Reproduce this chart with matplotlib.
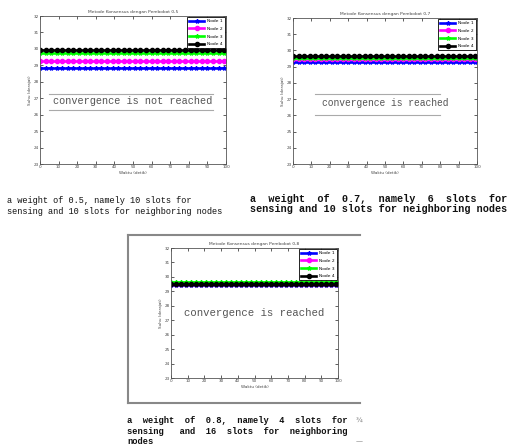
import numpy as np
import matplotlib.pyplot as plt
from matplotlib.lines import Line2D

# time axis (detik)
waktu = np.arange(0, 101)

node_names = ["Node 1", "Node 2", "Node 3", "Node 4"]
node_colors = ["blue", "magenta", "lime", "black"]
node_markers = ["*", "o", "*", "o"]

# steady temperature per node
suhu_05 = [28.85, 29.28, 29.73, 29.95]
suhu_07 = [29.27, 29.45, 29.55, 29.66]
suhu_08 = [29.45, 29.50, 29.68, 29.50]

titles = ["Metode Konsensus dengan Pembobot 0,5",
          "Metode Konsensus dengan Pembobot 0,7",
          "Metode Konsensus dengan Pembobot 0,8"]
notes = ["convergence is not reached", "convergence is reached", "convergence is reached"]

captions = [
    "a weight of 0.5, namely 10 slots for\nsensing and 10 slots for neighboring nodes",
    "a  weight  of  0.7,  namely  6  slots  for\nsensing and 10 slots for neighboring nodes",
    "a  weight  of  0.8,  namely  4  slots  for\nsensing   and  16  slots  for  neighboring\nnodes",
]

W, H = 509, 447
fig = plt.figure(figsize=(W / 100, H / 100), dpi=100)


def px(l, t, r, b):
    return [l / W, 1 - b / H, (r - l) / W, (b - t) / H]


def panel(rect, values, title, note, note_y, note_size, lines=None, span=None):
    ax = fig.add_axes(px(*rect))
    for v, name, c, m in zip(values, node_names, node_colors, node_markers):
        ax.plot(waktu, np.full(waktu.shape, v), color=c, marker=m, markevery=3,
                markersize=3, linewidth=1.9, label=name)
    ax.set_xlim(0, 100)
    ax.set_ylim(23, 32)
    ax.set_xticks(np.arange(0, 101, 10))
    ax.set_yticks(np.arange(23, 33, 1))
    ax.tick_params(direction="in", top=True, right=True, labelsize=3, length=2,
                   width=0.6, pad=1, colors="#444444")
    for s in ax.spines.values():
        s.set_linewidth(0.6)
        s.set_color("#555555")
    ax.set_title(title, fontsize=3.2, pad=2, color="#444444")
    ax.set_xlabel("Waktu (detik)", fontsize=3, labelpad=1, color="#444444")
    ax.set_ylabel("Suhu (derajat)", fontsize=3, labelpad=1, color="#444444")
    leg = ax.legend(loc="upper right", fontsize=3.2, handlelength=3.2, borderpad=0.5,
                    labelspacing=0.8, fancybox=False, framealpha=1, edgecolor="black",
                    borderaxespad=0.2)
    leg.get_frame().set_linewidth(0.6)
    ax.text(0.5, note_y, note, transform=ax.transAxes, ha="center", va="center",
            family="Liberation Mono", fontsize=note_size, color="#555555")
    if lines:
        for y in lines:
            ax.plot(span, [y, y], transform=ax.transAxes, color="#aaaaaa", lw=0.8)
    return ax


panel((40, 16, 226, 164), suhu_05, titles[0], notes[0], 0.423, 7.4,
      lines=[0.476, 0.362], span=[0.05, 0.93])
panel((293, 18, 477, 164), suhu_07, titles[1], notes[1], 0.42, 6.9,
      lines=[0.477, 0.338], span=[0.12, 0.80])
panel((171, 248, 338, 378), suhu_08, titles[2], notes[2], 0.50, 7.7)

# frame around third chart
gray = "#888888"
fig.add_artist(Line2D([128 / W, 360 / W], [1 - 235 / H, 1 - 235 / H], color=gray, lw=1.5))
fig.add_artist(Line2D([128 / W, 360 / W], [1 - 403 / H, 1 - 403 / H], color=gray, lw=1.5))
fig.add_artist(Line2D([128 / W, 128 / W], [1 - 235 / H, 1 - 403 / H], color=gray, lw=1.5))

cap_kw = dict(family="Liberation Mono", color="#111111", va="center", ha="left")
fig.text(7 / W, 1 - 206 / H, captions[0], fontsize=6.2, linespacing=1.25, **cap_kw)
fig.text(250 / W, 1 - 204 / H, captions[1], fontsize=7.3, linespacing=1.12,
         fontweight="bold", **cap_kw)
fig.text(127 / W, 1 - 431 / H, captions[2], fontsize=6.3, linespacing=1.2,
         fontweight="bold", **cap_kw)
fig.text(356 / W, 1 - 420 / H, "¾", fontsize=5, color="#777777", va="center")
fig.text(356 / W, 1 - 441 / H, "—", fontsize=5, color="#777777", va="center")

fig.savefig("out.png", dpi=100)
